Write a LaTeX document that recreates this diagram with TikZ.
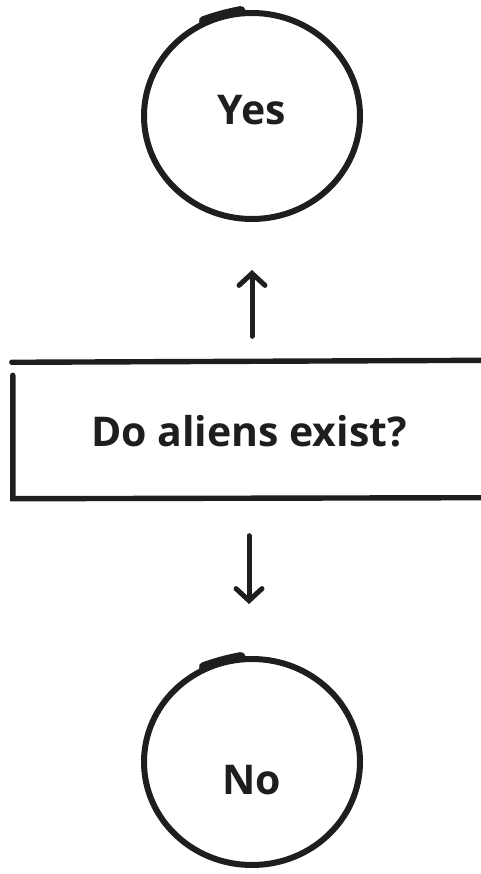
\documentclass[tikz,border=0pt]{standalone}
\usepackage{fontspec}
\setmainfont{Open Sans}
\usepackage{xcolor}
\usetikzlibrary{arrows.meta, positioning, shapes.geometric}
\definecolor{inkdark}{HTML}{1E1E1E}

\begin{document}
\begin{tikzpicture}[
  x=1pt, y=-1pt,
  bubble/.style={draw=inkdark, ellipse, line width=6pt, minimum width=216pt, minimum height=206pt, inner sep=0pt},
  answer/.style={font=\fontsize{41}{44}\selectfont\bfseries, text=inkdark},
  frame/.style={draw=inkdark, line width=5.4pt, line cap=round},
  flow/.style={draw=inkdark, line width=5pt, line cap=round, line join=round, -{Straight Barb[length=12pt, width=26pt, line cap=round]}},
  overlap/.style={draw=inkdark, line width=9pt, line cap=round}
]
  \useasboundingbox (0,0) rectangle (480,874);

  % answers
  \node[bubble] (yes) at (252,116) {};
  \node[answer] (yesText) at (252,110) {Yes};
  \node[bubble] (no) at (252,762) {};
  \node[answer] (noText) at (252,780) {No};
  \draw[overlap] (yes.117) to[bend left=4] (yes.96);
  \draw[overlap] (no.117) to[bend left=4] (no.96);

  % question box, open on the right
  \node[answer, minimum width=474pt, minimum height=135pt, inner sep=0pt] (question) at (249,431) {Do aliens exist?};
  \draw[frame] ([yshift=1pt]question.north west) -- ([yshift=3pt]question.north east);
  \draw[frame] ([yshift=-12pt, xshift=1pt]question.north west) -- ([xshift=1pt]question.south west)
    -- ([yshift=1pt]question.south east);

  % connectors
  \draw[flow, shorten <=27pt, shorten >=48pt] (yes |- question.north) -- (yes.south);
  \draw[flow, shorten <=37pt, shorten >=52pt] (question.south) -- (question.south |- no.north);
\end{tikzpicture}
\end{document}
